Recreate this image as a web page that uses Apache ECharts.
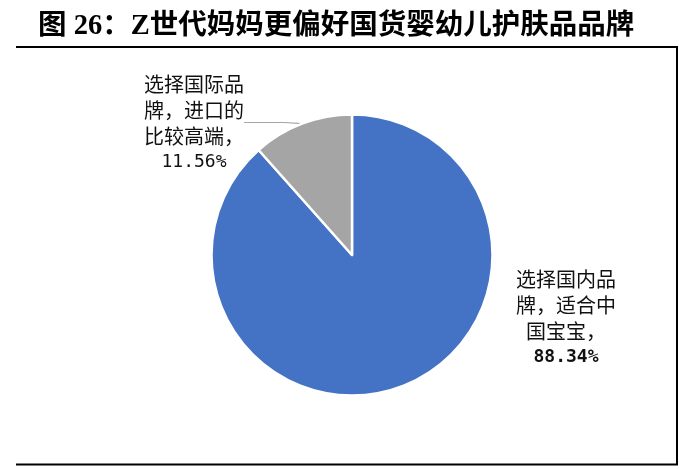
<!DOCTYPE html>
<html><head><meta charset="utf-8">
<style>html,body{margin:0;padding:0;background:#fff}#c{width:679px;height:469px}</style>
<script src="https://cdn.jsdelivr.net/npm/echarts@6/dist/echarts.min.js"></script>
</head><body><div id="c"></div>
<script>
const categories = ['选择国内品\n牌，适合中\n国宝宝，', '选择国际品\n牌，进口的\n比较高端，'];
const values = [88.34, 11.56];
const colors = ['#4472C4', '#A5A5A5'];
const titleText = '图 26：Z世代妈妈更偏好国货婴幼儿护肤品品牌';

const chart = echarts.init(document.getElementById('c'), null, {renderer: 'canvas'});
const cjk = '"Noto Sans CJK SC", sans-serif';
const labelPos = [{x: 566, y: 318}, {x: 194, y: 123}];

chart.setOption({
  animation: false,
  title: {
    text: titleText, left: 33, top: 7,
    textStyle: {fontFamily: '"Liberation Serif", "Noto Sans CJK SC", serif', fontWeight: 'bold', fontSize: 28.5, color: '#000'}
  },
  graphic: [
    {type: 'line', shape: {x1: 16, y1: 47, x2: 678, y2: 47}, style: {stroke: '#000', lineWidth: 2}},
    {type: 'line', shape: {x1: 677, y1: 46, x2: 677, y2: 465}, style: {stroke: '#000', lineWidth: 2}},
    {type: 'line', shape: {x1: 16, y1: 464.5, x2: 678, y2: 464.5}, style: {stroke: '#000', lineWidth: 2}}
  ],
  series: [{
    type: 'pie',
    center: [352, 255],
    radius: [0, 140.5],
    startAngle: 90,
    clockwise: true,
    itemStyle: {borderColor: '#fff', borderWidth: 2.5},
    data: categories.map((c, i) => ({
      name: c, value: values[i],
      itemStyle: {color: colors[i]},
      label: {
        formatter: i === 0 ? '{t|{b}}\n{v|{c}%}' : '{t|{b}}\n{w|{c}%}'
      },
      labelLine: {show: i === 1}
    })),
    label: {
      show: true, position: 'outside', align: 'center',
      rich: {
        t: {fontFamily: cjk, fontSize: 20, lineHeight: 26, color: '#111', align: 'center'},
        v: {fontFamily: '"DejaVu Sans Mono", monospace', fontWeight: 'bold', fontSize: 18, lineHeight: 26, color: '#111', align: 'center'},
        w: {fontFamily: '"DejaVu Sans Mono", monospace', fontSize: 18, lineHeight: 26, color: '#111', align: 'center'}
      }
    },
    labelLine: {length: 0, length2: 40, lineStyle: {color: '#A5A5A5', width: 1.2}},
    labelLayout: function (p) {
      const pos = labelPos[p.dataIndex];
      return {x: pos.x, y: pos.y, align: 'center', verticalAlign: 'middle'};
    }
  }]
});
</script></body></html>
